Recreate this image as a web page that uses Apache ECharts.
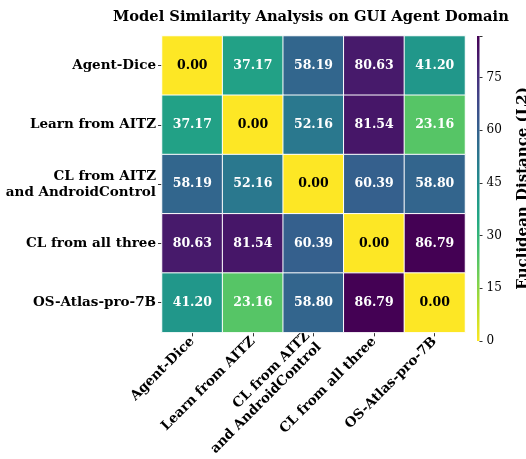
<!DOCTYPE html>
<html><head><meta charset="utf-8">
<script src="https://cdn.jsdelivr.net/npm/echarts@6/dist/echarts.min.js"></script>
<style>html,body{margin:0;padding:0;background:#fff}#c{width:526px;height:459px}</style>
</head><body><div id="c"></div>
<script>
const models = ["Agent-Dice", "Learn from AITZ", "CL from AITZ\nand AndroidControl", "CL from all three", "OS-Atlas-pro-7B"];
const rowAgentDice = [0.00, 37.17, 58.19, 80.63, 41.20];
const rowLearnAITZ = [37.17, 0.00, 52.16, 81.54, 23.16];
const rowCLAITZAC = [58.19, 52.16, 0.00, 60.39, 58.80];
const rowCLAll = [80.63, 81.54, 60.39, 0.00, 86.79];
const rowOSAtlas = [41.20, 23.16, 58.80, 86.79, 0.00];
const colorbarTicks = [0, 15, 30, 45, 60, 75];
const vMin = 0, vMax = 86.79;

const rows = [rowAgentDice, rowLearnAITZ, rowCLAITZAC, rowCLAll, rowOSAtlas];
const viridisR = ['#fde725','#bddf26','#7ad151','#44bf70','#22a884','#21918c','#2a788e','#355f8d','#414487','#482475','#440154'];
const FONT = '"DejaVu Serif", serif';

const data = [];
rows.forEach((r, yi) => r.forEach((v, xi) => {
  data.push({value: [xi, yi, v], label: {color: v < 10 ? '#000' : '#fff'}});
}));

const chart = echarts.init(document.getElementById('c'), null, {renderer: 'canvas'});
chart.setOption({
  backgroundColor: '#fff',
  animation: false,
  title: {
    text: 'Model Similarity Analysis on GUI Agent Domain',
    left: 108, top: 5,
    textStyle: {fontFamily: FONT, fontWeight: 'bold', fontSize: 14.7, color: '#000'}
  },
  grid: [
    {left: 162, top: 36, width: 303, height: 304},
    {left: 477, top: 36, width: 10, height: 305}
  ],
  xAxis: [
    {type: 'category', gridIndex: 0, data: models, position: 'bottom',
     axisLine: {show: false}, splitLine: {show: false},
     axisTick: {show: true, alignWithLabel: true, length: 4, lineStyle: {color: '#333'}},
     axisLabel: {rotate: 45, interval: 0, margin: 7, fontFamily: FONT, fontWeight: 'bold', fontSize: 13.5, color: '#000', align: 'right', lineHeight: 16}},
    {type: 'category', gridIndex: 1, data: ['c'], show: false}
  ],
  yAxis: [
    {type: 'category', gridIndex: 0, data: models, inverse: true,
     axisLine: {show: false}, splitLine: {show: false},
     axisTick: {show: true, alignWithLabel: true, length: 4, lineStyle: {color: '#333'}},
     axisLabel: {interval: 0, margin: 6, fontFamily: FONT, fontWeight: 'bold', fontSize: 13.5, color: '#000', lineHeight: 16}},
    {type: 'value', gridIndex: 1, min: vMin, max: vMax, interval: 15, position: 'right',
     axisLine: {show: false}, splitLine: {show: false},
     axisTick: {show: true, length: 3, lineStyle: {color: '#333'}},
     axisLabel: {margin: 7, fontFamily: FONT, fontSize: 12, color: '#000',
       formatter: v => colorbarTicks.includes(v) ? String(v) : ''},
     name: 'Euclidean Distance (L2)', nameLocation: 'middle', nameRotate: 90, nameGap: 36,
     nameTextStyle: {fontFamily: FONT, fontWeight: 'bold', fontSize: 15, color: '#000'}}
  ],
  visualMap: {show: false, min: vMin, max: vMax, seriesIndex: 0, dimension: 2, inRange: {color: viridisR}},
  series: [
    {type: 'heatmap', xAxisIndex: 0, yAxisIndex: 0, data: data,
     itemStyle: {borderColor: '#fff', borderWidth: 1},
     label: {show: true, formatter: p => p.value[2].toFixed(2), fontFamily: FONT, fontWeight: 'bold', fontSize: 12.5}},
    {type: 'bar', xAxisIndex: 1, yAxisIndex: 1, data: [vMax], barWidth: '100%', silent: true,
     itemStyle: {color: new echarts.graphic.LinearGradient(0, 1, 0, 0,
       viridisR.map((c, i) => ({offset: i / (viridisR.length - 1), color: c})))}}
  ]
});
</script></body></html>
